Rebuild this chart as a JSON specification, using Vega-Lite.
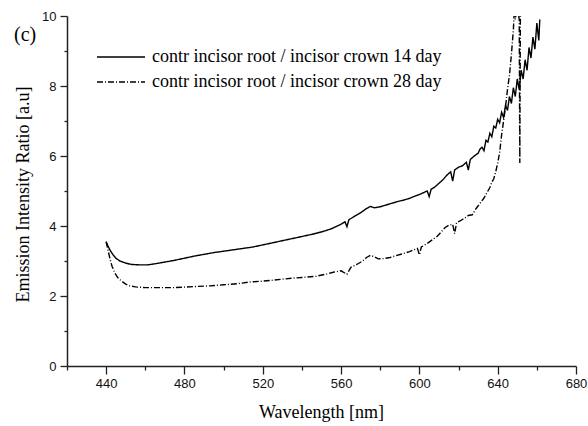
{
  "$schema": "https://vega.github.io/schema/vega-lite/v6.json",
  "width": 509,
  "height": 350,
  "autosize": {"type": "none"},
  "padding": {"left": 67, "top": 16, "right": 12, "bottom": 60},
  "background": "white",
  "title": {"text": "(c)", "anchor": "start", "frame": "group", "orient": "top", "font": "Liberation Serif", "fontSize": 20, "fontWeight": "normal", "color": "black", "dx": -53, "dy": 39, "baseline": "top"},
  "config": {
    "view": {"stroke": null},
    "axis": {"domainColor": "#222", "domainWidth": 1.5, "tickColor": "#222", "tickWidth": 1.3, "labelFont": "Liberation Sans", "labelFontSize": 13, "labelColor": "#111", "titleFont": "Liberation Serif", "titleFontSize": 18, "titleFontWeight": "normal", "titleColor": "black", "grid": false, "labelOverlap": false, "labelFlush": false}
  },
  "data": {"values": [
    {"s":"14","wl":440,"v":3.55},{"s":"14","wl":441,"v":3.42},{"s":"14","wl":442,"v":3.31},{"s":"14","wl":443.5,"v":3.18},{"s":"14","wl":445,"v":3.08},{"s":"14","wl":447,"v":3.0},{"s":"14","wl":450,"v":2.94},{"s":"14","wl":453,"v":2.9},{"s":"14","wl":457,"v":2.89},{"s":"14","wl":461,"v":2.89},{"s":"14","wl":465,"v":2.92},{"s":"14","wl":470,"v":2.97},{"s":"14","wl":475,"v":3.02},{"s":"14","wl":480,"v":3.08},{"s":"14","wl":485,"v":3.14},{"s":"14","wl":490,"v":3.19},{"s":"14","wl":495,"v":3.24},{"s":"14","wl":500,"v":3.28},{"s":"14","wl":505,"v":3.32},{"s":"14","wl":510,"v":3.36},{"s":"14","wl":515,"v":3.4},{"s":"14","wl":520,"v":3.46},{"s":"14","wl":525,"v":3.52},{"s":"14","wl":530,"v":3.58},{"s":"14","wl":535,"v":3.64},{"s":"14","wl":540,"v":3.7},{"s":"14","wl":545,"v":3.76},{"s":"14","wl":550,"v":3.83},{"s":"14","wl":555,"v":3.92},{"s":"14","wl":560,"v":4.05},{"s":"14","wl":562,"v":4.12},{"s":"14","wl":563,"v":3.98},{"s":"14","wl":564,"v":4.18},{"s":"14","wl":567,"v":4.28},{"s":"14","wl":570,"v":4.38},{"s":"14","wl":573,"v":4.5},{"s":"14","wl":575,"v":4.56},{"s":"14","wl":577,"v":4.52},{"s":"14","wl":580,"v":4.55},{"s":"14","wl":583,"v":4.6},{"s":"14","wl":586,"v":4.65},{"s":"14","wl":589,"v":4.7},{"s":"14","wl":592,"v":4.74},{"s":"14","wl":595,"v":4.79},{"s":"14","wl":598,"v":4.86},{"s":"14","wl":600,"v":4.9},{"s":"14","wl":602,"v":4.95},{"s":"14","wl":604,"v":5.0},{"s":"14","wl":605,"v":4.84},{"s":"14","wl":606,"v":5.05},{"s":"14","wl":608,"v":5.12},{"s":"14","wl":610,"v":5.22},{"s":"14","wl":612,"v":5.32},{"s":"14","wl":614,"v":5.45},{"s":"14","wl":616,"v":5.55},{"s":"14","wl":617,"v":5.28},{"s":"14","wl":618,"v":5.6},{"s":"14","wl":620,"v":5.68},{"s":"14","wl":622,"v":5.72},{"s":"14","wl":624,"v":5.82},{"s":"14","wl":625,"v":5.6},{"s":"14","wl":626,"v":5.9},{"s":"14","wl":628,"v":6.0},{"s":"14","wl":630,"v":6.08},{"s":"14","wl":631,"v":6.2},{"s":"14","wl":632,"v":6.25},{"s":"14","wl":633,"v":6.15},{"s":"14","wl":634,"v":6.45},{"s":"14","wl":635,"v":6.4},{"s":"14","wl":636,"v":6.65},{"s":"14","wl":637,"v":6.55},{"s":"14","wl":638,"v":6.85},{"s":"14","wl":639,"v":6.8},{"s":"14","wl":640,"v":7.05},{"s":"14","wl":641,"v":6.95},{"s":"14","wl":642,"v":7.25},{"s":"14","wl":643,"v":7.1},{"s":"14","wl":644,"v":7.45},{"s":"14","wl":645,"v":7.3},{"s":"14","wl":646,"v":7.7},{"s":"14","wl":647,"v":7.5},{"s":"14","wl":648,"v":7.95},{"s":"14","wl":649,"v":7.7},{"s":"14","wl":650,"v":8.2},{"s":"14","wl":651,"v":7.9},{"s":"14","wl":652,"v":8.45},{"s":"14","wl":653,"v":8.2},{"s":"14","wl":654,"v":8.75},{"s":"14","wl":655,"v":8.45},{"s":"14","wl":656,"v":9.1},{"s":"14","wl":657,"v":8.8},{"s":"14","wl":658,"v":9.4},{"s":"14","wl":659,"v":9.05},{"s":"14","wl":660,"v":9.8},{"s":"14","wl":661,"v":9.3},{"s":"14","wl":661.5,"v":9.9},
    {"s":"28","wl":440,"v":3.55},{"s":"28","wl":441,"v":3.3},{"s":"28","wl":442,"v":3.05},{"s":"28","wl":443,"v":2.85},{"s":"28","wl":444.5,"v":2.65},{"s":"28","wl":446,"v":2.52},{"s":"28","wl":448,"v":2.42},{"s":"28","wl":450,"v":2.34},{"s":"28","wl":452,"v":2.29},{"s":"28","wl":455,"v":2.26},{"s":"28","wl":460,"v":2.24},{"s":"28","wl":467,"v":2.24},{"s":"28","wl":475,"v":2.24},{"s":"28","wl":485,"v":2.27},{"s":"28","wl":493,"v":2.29},{"s":"28","wl":500,"v":2.32},{"s":"28","wl":507,"v":2.35},{"s":"28","wl":513,"v":2.4},{"s":"28","wl":519,"v":2.42},{"s":"28","wl":525,"v":2.45},{"s":"28","wl":530,"v":2.48},{"s":"28","wl":535,"v":2.51},{"s":"28","wl":540,"v":2.53},{"s":"28","wl":547,"v":2.56},{"s":"28","wl":552,"v":2.62},{"s":"28","wl":556,"v":2.68},{"s":"28","wl":560,"v":2.72},{"s":"28","wl":563,"v":2.62},{"s":"28","wl":565,"v":2.82},{"s":"28","wl":568,"v":2.9},{"s":"28","wl":571,"v":3.0},{"s":"28","wl":573,"v":3.1},{"s":"28","wl":575,"v":3.16},{"s":"28","wl":577,"v":3.12},{"s":"28","wl":579,"v":3.06},{"s":"28","wl":582,"v":3.07},{"s":"28","wl":585,"v":3.1},{"s":"28","wl":588,"v":3.15},{"s":"28","wl":591,"v":3.2},{"s":"28","wl":595,"v":3.27},{"s":"28","wl":599,"v":3.36},{"s":"28","wl":600,"v":3.18},{"s":"28","wl":601,"v":3.4},{"s":"28","wl":604,"v":3.5},{"s":"28","wl":607,"v":3.62},{"s":"28","wl":609,"v":3.7},{"s":"28","wl":611,"v":3.82},{"s":"28","wl":613,"v":3.95},{"s":"28","wl":615,"v":4.02},{"s":"28","wl":617,"v":4.05},{"s":"28","wl":618,"v":3.78},{"s":"28","wl":619,"v":4.1},{"s":"28","wl":621,"v":4.15},{"s":"28","wl":623,"v":4.22},{"s":"28","wl":625,"v":4.3},{"s":"28","wl":627,"v":4.32},{"s":"28","wl":629,"v":4.5},{"s":"28","wl":631,"v":4.65},{"s":"28","wl":633,"v":4.8},{"s":"28","wl":635,"v":5.0},{"s":"28","wl":636,"v":5.1},{"s":"28","wl":637,"v":5.25},{"s":"28","wl":638,"v":5.35},{"s":"28","wl":639,"v":5.55},{"s":"28","wl":640,"v":5.8},{"s":"28","wl":641,"v":6.1},{"s":"28","wl":642,"v":6.6},{"s":"28","wl":643,"v":7.0},{"s":"28","wl":644,"v":7.4},{"s":"28","wl":645,"v":7.9},{"s":"28","wl":646,"v":8.3},{"s":"28","wl":647,"v":8.9},{"s":"28","wl":648,"v":9.6},{"s":"28","wl":648.5,"v":10.2},{"s":"28","wl":649,"v":9.9},{"s":"28","wl":650,"v":10.3},{"s":"28","wl":651,"v":9.9},{"s":"28","wl":651.3,"v":5.8},{"s":"28","wl":651.6,"v":10.2},{"s":"28","wl":652,"v":10.3}
  ]},
  "mark": {"type": "line", "clip": true, "color": "black", "strokeWidth": 1.4},
  "encoding": {
    "x": {"field": "wl", "type": "quantitative", "scale": {"domain": [420, 680], "nice": false}, "title": "Wavelength [nm]",
      "axis": {"values": [420,440,460,480,500,520,540,560,580,600,620,640,660,680], "labelExpr": "datum.value % 40 == 0 ? datum.label : ''", "tickSize": {"condition": {"test": "datum.value % 40 == 0", "value": 8}, "value": 4}, "labelPadding": 3, "titleX": 254, "titleY": 51, "titleBaseline": "alphabetic"}},
    "y": {"field": "v", "type": "quantitative", "scale": {"domain": [0, 10], "nice": false}, "title": "Emission Intensity Ratio [a.u]",
      "axis": {"values": [0,1,2,3,4,5,6,7,8,9,10], "labelExpr": "datum.value % 2 == 0 ? datum.label : ''", "tickSize": {"condition": {"test": "datum.value % 2 == 0", "value": 7}, "value": 3}, "labelPadding": 4, "titleX": -39, "titleY": 178, "titleBaseline": "alphabetic"}},
    "strokeDash": {"field": "s", "type": "nominal", "scale": {"domain": ["14", "28"], "range": [[1, 0], [6, 2, 1, 2]]},
      "legend": {"title": null, "orient": "none", "legendX": 45, "legendY": 32, "padding": 0, "symbolType": "M-4.8,0H4.8", "symbolSize": 100, "symbolStrokeColor": "black", "symbolStrokeWidth": 1.3, "labelFont": "Liberation Serif", "labelFontSize": 18, "labelColor": "black", "labelOffset": 22, "labelLimit": 0, "rowPadding": 7, "labelExpr": "'contr incisor root / incisor crown ' + datum.label + ' day'"}}
  }
}
